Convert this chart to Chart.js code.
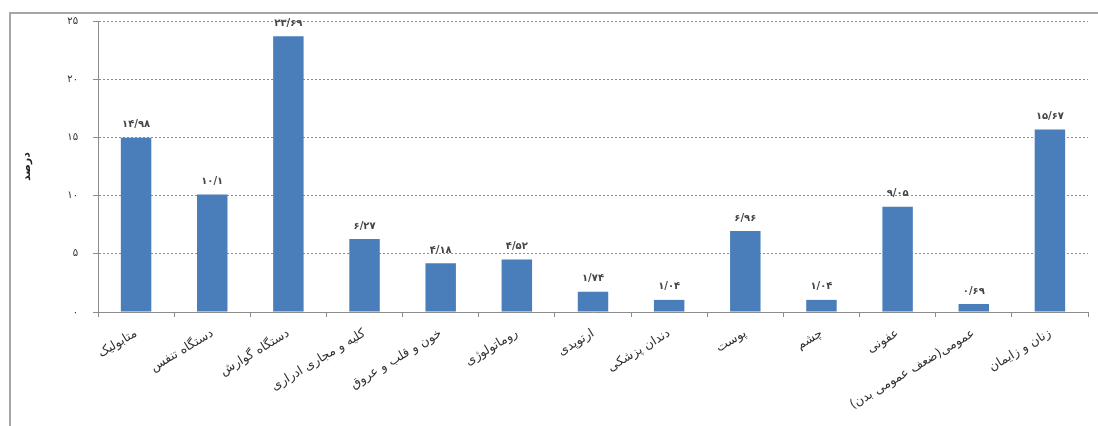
<!DOCTYPE html>
<html lang="fa">
<head>
<meta charset="utf-8">
<title>درصد</title>
<script src="https://cdn.jsdelivr.net/npm/chart.js@4"></script>
<style>
    html, body { margin: 0; padding: 0; background: #fff; overflow: hidden; }
    #wrap { position: relative; width: 1098px; height: 426px; }
    #frame {
        position: absolute; left: 9px; top: 12px; width: 1200px; height: 500px;
        border-left: 2px solid #a6a6a6; border-top: 2px solid #a6a6a6;
    }
    canvas { position: absolute; left: 0; top: 0; }
</style>
</head>
<body>
<div id="wrap">
    <div id="frame"></div>
    <canvas id="chart" width="1098" height="426"></canvas>
</div>
<script>
// Categories
const categories = [
    'متابولیک',
    'دستگاه تنفس',
    'دستگاه گوارش',
    'کلیه و مجاری ادراری',
    'خون و قلب و عروق',
    'روماتولوژی',
    'ارتوپدی',
    'دندان پزشکی',
    'پوست',
    'چشم',
    'عفونی',
    'عمومی(ضعف عمومی بدن)',
    'زنان و زایمان'
];

// Percentages per category
const percents = [14.98, 10.1, 23.69, 6.27, 4.18, 4.52, 1.74, 1.04, 6.96, 1.04, 9.05, 0.69, 15.67];

// Y axis ticks
const yTicks = [0, 5, 10, 15, 20, 25];

const barColor = '#4a7ebb';
const gridColor = '#8c8c8c';
const faFont = "'DejaVu Sans', sans-serif";

// Western digits -> Persian digits, decimal point -> '/'
function toFa(v) {
    return String(v).replace(/\d/g, d => '۰۱۲۳۴۵۶۷۸۹'[d]).replace('.', '/');
}

// Draws the value above every bar
const valueLabels = {
    id: 'valueLabels',
    afterDatasetsDraw(chart) {
        const ctx = chart.ctx;
        const meta = chart.getDatasetMeta(0);
        ctx.save();
        ctx.font = 'bold 10px ' + faFont;
        ctx.fillStyle = '#454545';
        ctx.textAlign = 'center';
        ctx.textBaseline = 'middle';
        meta.data.forEach((bar, i) => {
            ctx.fillText(toFa(chart.data.datasets[0].data[i]), bar.x, bar.y - 13);
        });
        ctx.restore();
    }
};

const chart = new Chart(document.getElementById('chart'), {
    type: 'bar',
    data: {
        labels: categories,
        datasets: [{
            label: 'درصد',
            data: percents,
            backgroundColor: barColor,
            borderWidth: 0,
            categoryPercentage: 1,
            barPercentage: 0.4
        }]
    },
    options: {
        responsive: false,
        animation: false,
        layout: { padding: { top: 19, right: 10, left: 0, bottom: 0 } },
        plugins: {
            legend: { display: false },
            tooltip: { enabled: false }
        },
        scales: {
            x: {
                afterFit: s => { s.height = 114; },
                grid: {
                    offset: true,
                    drawOnChartArea: false,
                    drawTicks: true,
                    tickLength: 5,
                    color: gridColor
                },
                border: { color: gridColor, width: 1 },
                ticks: {
                    autoSkip: false,
                    minRotation: 31,
                    maxRotation: 31,
                    padding: 9,
                    color: '#303030',
                    font: { family: faFont, size: 12.5 }
                }
            },
            y: {
                min: 0,
                max: 25,
                afterFit: s => { s.width = 98; },
                afterBuildTicks: s => { s.ticks = yTicks.map(v => ({ value: v })); },
                grid: {
                    color: gridColor,
                    lineWidth: 1,
                    tickLength: 5
                },
                border: { color: gridColor, width: 1, dash: [2, 2] },
                ticks: {
                    padding: 15,
                    color: '#303030',
                    font: { family: faFont, size: 10 },
                    callback: v => toFa(v)
                },
                title: {
                    display: true,
                    text: 'درصد',
                    color: '#202020',
                    font: { family: faFont, size: 11, weight: 'bold' },
                    padding: { top: 21, bottom: 0 }
                }
            }
        }
    },
    plugins: [valueLabels]
});
</script>
</body>
</html>
